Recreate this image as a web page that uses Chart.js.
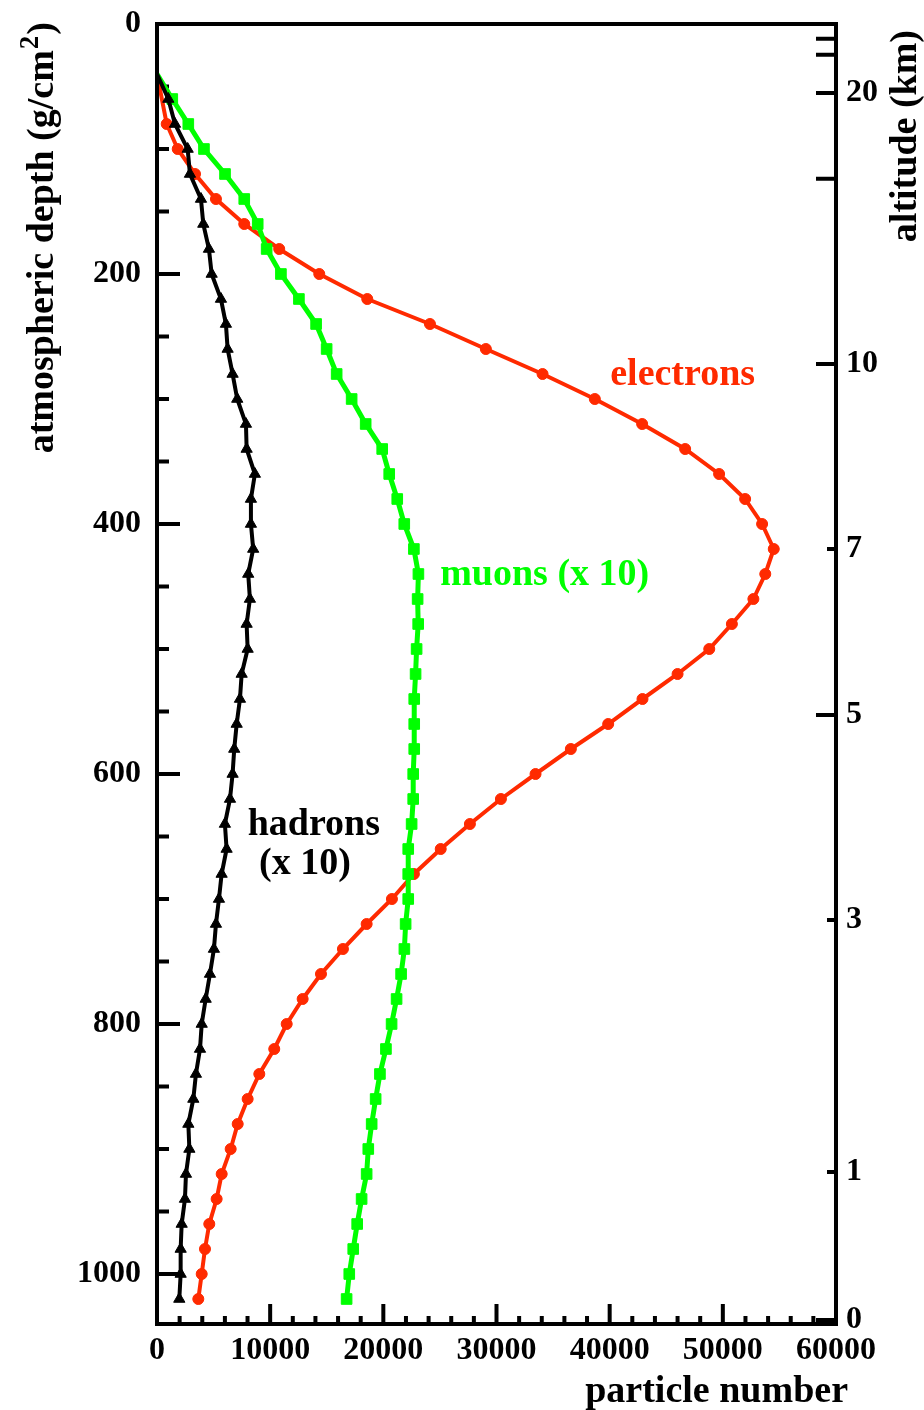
<!DOCTYPE html>
<html>
<head>
<meta charset="utf-8">
<script src="https://cdn.jsdelivr.net/npm/chart.js@4"></script>
<style>
  body { margin: 0; background: #fff; }
</style>
</head>
<body>
<canvas id="myChart" width="924" height="1410"></canvas>
<script>
// atmospheric depth (g/cm2) of each sample
var depth = [40, 60, 80, 100, 120, 140, 160, 180, 200, 220, 240, 260, 280, 300, 320, 340, 360, 380, 400, 420,
             440, 460, 480, 500, 520, 540, 560, 580, 600, 620, 640, 660, 680, 700, 720, 740, 760, 780, 800, 820,
             840, 860, 880, 900, 920, 940, 960, 980, 1000, 1020];
var electrons = [0, null, 857, 1830, 3360, 5210, 7710, 10800, 14340, 18580, 24120, 29060, 34070, 38690, 42870, 46670, 49670, 51970, 53470, 54500,
                 53750, 52700, 50800, 48800, 46000, 42900, 39870, 36570, 33450, 30390, 27650, 25070, 22700, 20760, 18525, 16430, 14490, 12870, 11460, 10360,
                 9040, 8010, 7130, 6510, 5715, 5270, 4620, 4240, 3950, 3650];
var muons = [0, 1350, 2765, 4150, 6010, 7710, 8900, 9690, 10950, 12540, 14060, 14990, 15875, 17200, 18440, 19900, 20520, 21230, 21850, 22700,
             23100, 23030, 23080, 22940, 22850, 22730, 22730, 22730, 22640, 22640, 22500, 22200, 22200, 22200, 21970, 21860, 21570, 21170, 20730, 20230,
             19700, 19320, 18970, 18670, 18525, 18080, 17690, 17340, 16990, 16755];
var hadrons = [0, 1000, 1590, 2710, 2910, 3885, 4090, 4590, 4830, 5650, 6090, 6240, 6680, 7090, 7860, 7920, 8650, 8300, 8300, 8500,
               8060, 8210, 7920, 8010, 7480, 7330, 7040, 6825, 6680, 6450, 6000, 6150, 5710, 5475, 5210, 5030, 4680, 4300, 3950, 3800,
               3440, 3210, 2770, 2860, 2560, 2470, 2180, 2090, 2090, 1970];

// right axis: altitude ticks placed at their depth
var altitudeKm = [30, 25, 20, 15, 10, 7, 5, 3, 1, 0];
var altitudeDepth = [11.8, 24.6, 55.2, 123.8, 272, 420, 552.8, 716.8, 918.4, 1036.8];
var altitudeLabels = ['', '', '20', '', '10', '7', '5', '3', '1', '0'];

var SERIF = '"Liberation Serif", "Times New Roman", serif';
var RED = '#ff2a00', GREEN = '#00ff00', BLACK = '#000000';

function points(values) {
    var out = [];
    for (var i = 0; i < depth.length; i++) {
        if (values[i] !== null) out.push({x: values[i], y: depth[i]});
    }
    return out;
}
function noFirst(r) {
    return function (c) { return c.dataIndex === 0 ? 0 : r; };
}
// fixed box size, no label overflow padding
function fixSize(w, h) {
    return function (scale) {
        if (w) scale.width = w;
        if (h) scale.height = h;
        scale.paddingTop = 0;
        scale.paddingBottom = 0;
        scale.paddingLeft = 0;
        scale.paddingRight = 0;
    };
}

var frame = {
    id: 'frame',
    beforeDatasetsDraw: function (chart) {
        var ctx = chart.ctx, a = chart.chartArea, s = chart.scales;
        ctx.save();
        ctx.strokeStyle = BLACK;
        ctx.lineWidth = 4;
        ctx.beginPath();
        s.y.ticks.forEach(function (t) {
            var p = s.y.getPixelForValue(t.value);
            ctx.moveTo(a.left, p);
            ctx.lineTo(a.left + (t.label ? 23 : 12), p);
        });
        s.x.ticks.forEach(function (t) {
            var p = s.x.getPixelForValue(t.value);
            ctx.moveTo(p, a.bottom);
            ctx.lineTo(p, a.bottom - (t.label ? 20 : 8));
        });
        s.y2.ticks.forEach(function (t, i) {
            var p = s.y2.getPixelForValue(t.value);
            ctx.moveTo(a.right, p);
            ctx.lineTo(a.right - (altitudeKm[i] % 5 === 0 ? 20 : 9), p);
        });
        ctx.stroke();
        ctx.restore();
    },
    afterDatasetsDraw: function (chart) {
        var ctx = chart.ctx, a = chart.chartArea;
        ctx.save();
        ctx.strokeStyle = BLACK;
        ctx.lineWidth = 4;
        ctx.strokeRect(a.left, a.top, a.right - a.left, a.bottom - a.top);
        ctx.restore();
    },
    afterDraw: function (chart) {
        var ctx = chart.ctx, s = chart.scales;
        var big = 'bold 38px ' + SERIF, small = 'bold 27px ' + SERIF;
        ctx.save();
        ctx.font = big;
        ctx.fillStyle = BLACK;
        ctx.textBaseline = 'alphabetic';

        // left title, reads upward, with a raised 2
        ctx.save();
        ctx.translate(53, 24);
        ctx.rotate(-Math.PI / 2);
        var parts = ['atmospheric depth (g/cm', '2', ')'];
        ctx.font = big;
        var w0 = ctx.measureText(parts[0]).width, w2 = ctx.measureText(parts[2]).width;
        ctx.font = small;
        var w1 = ctx.measureText(parts[1]).width;
        var x0 = -(w0 + w1 + w2);
        ctx.font = big;
        ctx.fillText(parts[0], x0, 0);
        ctx.font = small;
        ctx.fillText(parts[1], x0 + w0 + 1, -15);
        ctx.font = big;
        ctx.fillText(parts[2], x0 + w0 + w1 + 2, 0);
        ctx.restore();

        ctx.save();
        ctx.translate(916, 30);
        ctx.rotate(-Math.PI / 2);
        ctx.textAlign = 'right';
        ctx.fillText('altitude (km)', 0, 0);
        ctx.restore();

        ctx.textAlign = 'right';
        ctx.fillText('particle number', 848, 1402);

        // curve labels
        ctx.textAlign = 'center';
        ctx.textBaseline = 'middle';
        var notes = [
            {text: 'electrons', x: 46450, y: 281, color: RED},
            {text: 'muons (x 10)', x: 34260, y: 441, color: GREEN},
            {text: 'hadrons', x: 13860, y: 641, color: BLACK},
            {text: '(x 10)', x: 13070, y: 672, color: BLACK}
        ];
        notes.forEach(function (n) {
            ctx.fillStyle = n.color;
            ctx.fillText(n.text, s.x.getPixelForValue(n.x), s.y.getPixelForValue(n.y));
        });
        ctx.restore();
    }
};

var tickFont = {family: SERIF, size: 32, weight: 'bold'};

document.addEventListener('DOMContentLoaded', function () {
    var ctx = document.getElementById('myChart').getContext('2d');
    new Chart(ctx, {
        type: 'scatter',
        data: {
            datasets: [{
                label: 'hadrons (x 10)',
                data: points(hadrons),
                showLine: true,
                borderColor: BLACK,
                backgroundColor: BLACK,
                borderWidth: 4,
                pointStyle: 'triangle',
                pointRadius: noFirst(6.5),
                pointBorderWidth: 1
            }, {
                label: 'muons (x 10)',
                data: points(muons),
                showLine: true,
                borderColor: GREEN,
                backgroundColor: GREEN,
                borderWidth: 5,
                pointStyle: 'rect',
                pointRadius: noFirst(7.5),
                pointBorderWidth: 1
            }, {
                label: 'electrons',
                data: points(electrons),
                showLine: true,
                borderColor: RED,
                backgroundColor: RED,
                borderWidth: 4,
                pointStyle: 'circle',
                pointRadius: noFirst(5.5),
                pointBorderWidth: 1
            }]
        },
        options: {
            responsive: false,
            animation: false,
            devicePixelRatio: 1,
            layout: {autoPadding: false, padding: {top: 24, left: 0, right: 0, bottom: 0}},
            plugins: {
                legend: {display: false},
                tooltip: {enabled: false}
            },
            scales: {
                x: {
                    type: 'linear',
                    min: 0,
                    max: 60000,
                    grid: {display: false, drawTicks: false},
                    border: {display: false},
                    ticks: {
                        stepSize: 2000,
                        autoSkip: false,
                        maxRotation: 0,
                        padding: 8,
                        color: BLACK,
                        font: tickFont,
                        callback: function (v) { return v % 10000 === 0 ? String(v) : ''; }
                    },
                    afterFit: fixSize(0, 86)
                },
                y: {
                    type: 'linear',
                    position: 'left',
                    reverse: true,
                    min: 0,
                    max: 1040,
                    grid: {display: false, drawTicks: false},
                    border: {display: false},
                    ticks: {
                        stepSize: 50,
                        includeBounds: false,
                        autoSkip: false,
                        padding: 16,
                        color: BLACK,
                        font: tickFont,
                        callback: function (v) { return v % 200 === 0 ? String(v) : ''; }
                    },
                    afterFit: fixSize(157, 0)
                },
                y2: {
                    type: 'linear',
                    position: 'right',
                    reverse: true,
                    min: 0,
                    max: 1040,
                    grid: {display: false, drawTicks: false},
                    border: {display: false},
                    afterBuildTicks: function (scale) {
                        scale.ticks = altitudeDepth.map(function (d) { return {value: d}; });
                    },
                    ticks: {
                        autoSkip: false,
                        padding: 10,
                        color: BLACK,
                        font: tickFont,
                        callback: function (v, i) { return altitudeLabels[i]; }
                    },
                    afterFit: fixSize(88, 0)
                }
            }
        },
        plugins: [frame]
    });
});
</script>
</body>
</html>
